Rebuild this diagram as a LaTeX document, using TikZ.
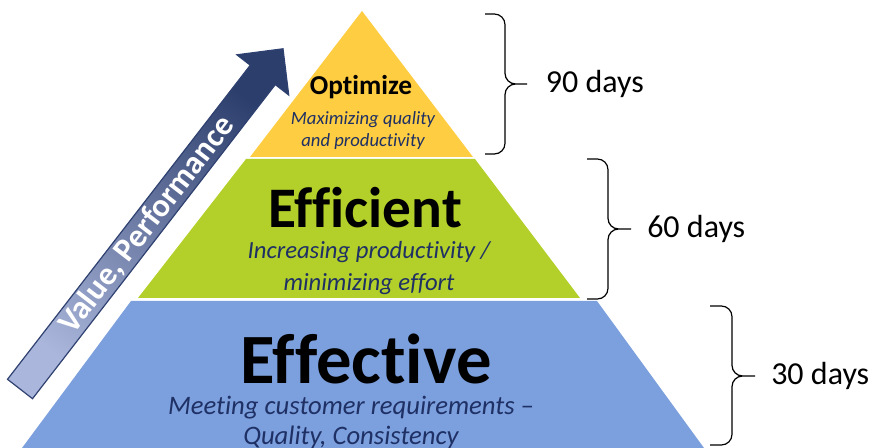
\documentclass[tikz,border=0pt]{standalone}
\usepackage{fontspec}
\setmainfont[Ligatures=NoCommon]{Carlito}
\usepackage{tikz}
\usepackage{xcolor}
\usetikzlibrary{positioning}

\definecolor{optYellow}{RGB}{255,205,65}
\definecolor{effGreen}{RGB}{179,207,42}
\definecolor{effBlue}{RGB}{124,159,222}
\definecolor{navyText}{RGB}{30,48,100}
\definecolor{arrowLight}{RGB}{170,182,219}
\definecolor{arrowMid}{RGB}{84,108,178}
\definecolor{arrowDark}{RGB}{44,62,108}
\definecolor{arrowEdge}{RGB}{47,65,112}

\begin{document}
\begin{tikzpicture}[x=0.75pt,y=0.75pt,yscale=-1,xscale=1,
  tierTitle/.style={font=\fontsize{#1}{#1}\selectfont\bfseries, inner sep=0pt, anchor=base},
  tierText/.style 2 args={font=\fontsize{#1}{#2}\selectfont\itshape, text=navyText, align=center, inner sep=0pt},
  daysBrace/.style={line width=0.9pt, rounded corners=8},
  daysLabel/.style={font=\fontsize{24}{28}\selectfont, inner sep=0pt}]
\useasboundingbox (0,0) rectangle (871,448);

%Shape: Triangle [top tier]
\fill [optYellow] (362,11) -- (473,157) -- (250,157) -- cycle ;
%Shape: Trapezoid [middle tier]
\fill [effGreen] (246,159) -- (475,159) -- (580,298) -- (138,298) -- cycle ;
%Shape: Trapezoid [bottom tier]
\fill [effBlue] (131,301) -- (597,301) -- (704,448) -- (22,448) -- cycle ;

%Shape: Arrow [value, performance]
\draw [draw=arrowEdge, line width=0.9pt, bottom color=arrowLight, middle color=arrowMid, top color=arrowDark, shading angle=-37.7]
  (7.5,379.3) -- (250.3,65.2) -- (236.9,54.8) -- (283,48.8) -- (288.7,95) -- (275.3,84.6) -- (32.5,398.7) -- cycle ;

% Text Node
\draw (147,225) node (valuePerf) [rotate=52.3, text=white, font=\fontsize{24.5}{24.5}\selectfont\bfseries, inner sep=0pt] {Value, Performance};

% Text Node
\draw (361,95) node (optimize) [tierTitle=20.5] {Optimize};
% Text Node
\draw (363,131) node (optimizeText) [tierText={14}{16.5}] {Maximizing quality\\and productivity};
% Text Node
\draw (365,228) node (efficient) [tierTitle=43] {Efficient};
% Text Node
\draw (369,268) node (efficientText) [tierText={18.5}{24}] {Increasing productivity /\\minimizing effort};
% Text Node
\draw (366,384) node (effective) [tierTitle=53] {Effective};
% Text Node
\draw (351,422) node (effectiveText) [tierText={20}{22.5}] {Meeting customer requirements --\\Quality, Consistency};

%Braces
\coordinate (b1t) at (485,14); \coordinate (b1m) at (527,84); \coordinate (b1b) at (485,154);
\coordinate (b2t) at (587,159); \coordinate (b2m) at (631,229); \coordinate (b2b) at (587,299);
\coordinate (b3t) at (710,306); \coordinate (b3m) at (755,376); \coordinate (b3b) at (710,445);

\draw [daysBrace] (b1t) -- ++(20,0) |- (b1m) (b1m) -- ++(-22,0) |- (b1b) ;
\draw [daysBrace] (b2t) -- ++(21,0) |- (b2m) (b2m) -- ++(-23,0) |- (b2b) ;
\draw [daysBrace] (b3t) -- ++(22,0) |- (b3m) (b3m) -- ++(-23,0) |- (b3b) ;

% Text Node
\node (days90) [daysLabel, right=14pt of b1m] {90 days};
% Text Node
\node (days60) [daysLabel, right=12pt of b2m] {60 days};
% Text Node
\node (days30) [daysLabel, right=12pt of b3m] {30 days};

\end{tikzpicture}
\end{document}
